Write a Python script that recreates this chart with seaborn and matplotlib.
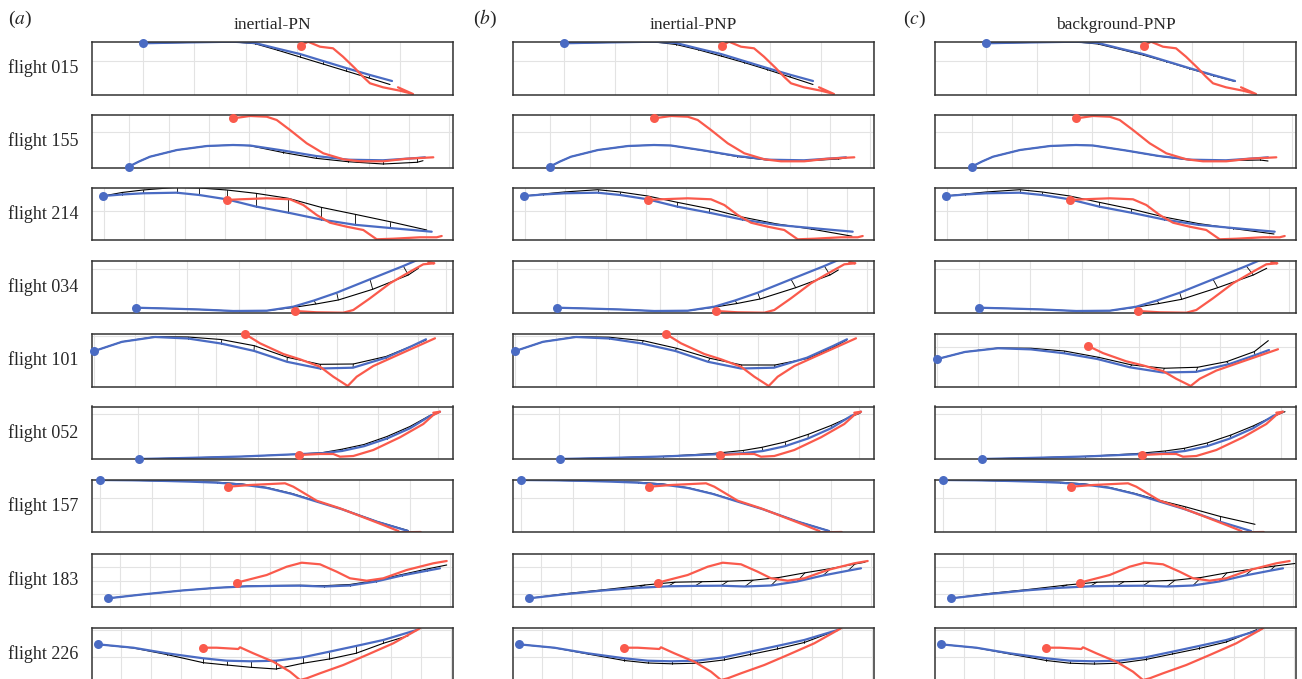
import matplotlib
matplotlib.use("Agg")
import matplotlib.pyplot as plt
import seaborn as sns
import numpy as np

# column titles and flights (rows)
models = ["inertial-PN", "inertial-PNP", "background-PNP"]
panel_tags = ["a", "b", "c"]
flights = ["015", "155", "214", "034", "101", "052", "157", "183", "226"]

# trajectories, (x, y) in panel units; blue = pursuer, red = target,
# black = simulated pursuer for each model (same time samples as blue)
blue_015 = [(50.7, 51.2), (80, 51.8), (110, 52.3), (141, 52.8), (163, 51.5), (185, 46), (208, 40.5), (231, 33.5), (254, 26.5), (278, 19.5), (300, 13.5)]
red_015 = [(209, 48.8), (216, 52.8), (228, 47.8), (241, 46.2), (251, 37.8), (263, 26.2), (271, 17.8), (278, 11.2), (291, 7.2), (308, 3.8), (321, 0.5), (306, 7.2)]
black_pn_015 = [(50.7, 51.2), (80, 51.8), (110, 52.3), (141, 52.6), (163, 50.8), (185, 44.5), (208, 37.5), (231, 30.5), (254, 23.5), (277, 16.5), (298, 10)]
black_pnp_015 = [(50.7, 51.2), (80, 51.8), (110, 52.3), (141, 52.6), (163, 50), (185, 44.8), (208, 38.5), (231, 32), (254, 25), (277, 17.5), (300, 10)]
black_bg_015 = [(50.7, 51.2), (80, 51.8), (110, 52.3), (141, 52.6), (163, 50.5), (185, 45.2), (208, 39.5), (231, 33), (254, 26), (278, 19), (300, 13)]

blue_155 = [(36.7, 0.8), (47, 6), (58, 10.8), (85, 17.5), (115, 21.5), (141, 22.5), (158, 22), (191, 17), (224, 11.5), (256, 7.8), (291, 7.2), (325, 9.5), (333, 10.2)]
red_155 = [(141.3, 49.2), (158, 51.5), (174.7, 50.8), (184.7, 47.5), (198, 37.5), (214.7, 24.2), (231.3, 14.2), (251.3, 8.2), (268, 6.2), (291.3, 6.2), (314.7, 8.8), (341.3, 10.2)]
black_pn_155 = [(36.7, 0.8), (47, 6), (58, 10.8), (85, 17.5), (115, 21.5), (141, 22.5), (158, 21.8), (191, 15), (224, 9.2), (256, 5.8), (291, 3.5), (325, 5.2), (331, 6.8)]
black_pnp_155 = [(36.7, 0.8), (47, 6), (58, 10.8), (85, 17.5), (115, 21.5), (141, 22.5), (158, 22), (191, 16.8), (224, 11), (256, 7.3), (291, 6.5), (325, 8.5), (333, 9.5)]
black_bg_155 = [(36.7, 0.8), (47, 6), (58, 10.8), (85, 17.5), (115, 21.5), (141, 22.5), (158, 22), (191, 17), (224, 11.3), (256, 7.5), (291, 6.8), (325, 7.5), (333, 6.5)]

blue_214 = [(11.3, 44), (30, 45.5), (51, 46.7), (84.7, 47.3), (107.3, 45), (134.7, 40.7), (163.7, 33.5), (196.3, 27.3), (229, 20.5), (263, 15.2), (298, 12), (339.7, 8.3)]
red_214 = [(134.7, 40), (148, 40.7), (174.7, 41.7), (198, 40.7), (211.3, 35), (224.7, 25), (238, 17.3), (254.7, 13.3), (271.3, 10), (284.7, 0.7), (301.3, 1.3), (328, 2.7), (344.7, 2.7), (349.7, 4)]
black_pn_214 = [(11.3, 44), (30, 47.5), (51, 50), (84.7, 52.7), (107.3, 52), (134.7, 50), (163.7, 46.7), (196.3, 41.7), (229, 32.7), (263, 25.7), (298, 18.3), (334.7, 10)]
black_pnp_214 = [(11.3, 44), (30, 46), (51, 48), (84.7, 50.3), (107.3, 48), (134.7, 44), (163.7, 37.8), (196.3, 31.3), (229, 23), (263, 16.2), (298, 11), (339, 3.8)]
black_bg_214 = [(11.3, 44), (30, 46), (51, 48), (84.7, 50.3), (107.3, 48), (134.7, 44), (163.7, 37.8), (196.3, 31), (229, 23), (263, 16.5), (298, 11.5), (339, 6)]

blue_034 = [(43.7, 5.3), (75, 4.5), (108, 3.5), (141.3, 2), (174.7, 2.3), (201.3, 6.3), (222, 12.5), (244.7, 20.3), (278, 33.7), (311.3, 47), (333, 56.3)]
red_034 = [(203, 2), (224.7, 0.7), (251.3, 0.3), (261.3, 3), (278, 14.7), (298, 29.7), (318, 41.3), (331.3, 48.7), (342.3, 49.7), (336.3, 51)]
black_pn_034 = [(43.7, 5.3), (75, 4.5), (108, 3.5), (141.3, 2), (174.7, 2.3), (201, 5.5), (224, 9), (246.3, 13), (280.7, 23.7), (316.3, 38), (326.3, 44.7)]
black_pnp_034 = [(43.7, 5.3), (75, 4.5), (108, 3.5), (141.3, 2), (174.7, 2.3), (201, 5.8), (224, 9.5), (247, 14), (282.7, 25.3), (317, 38), (325.3, 43)]
black_bg_034 = [(43.7, 5.3), (75, 4.5), (108, 3.5), (141.3, 2), (174.7, 2.3), (201, 5.8), (224, 9.5), (246.7, 13.7), (282.7, 25.3), (318.3, 38), (331.7, 44.7)]

blue_101 = [(2.3, 35.5), (30, 44.7), (63, 49.5), (96, 48), (129, 43), (162, 35.6), (195, 24.7), (228, 18), (261, 18.8), (294, 28.8), (320, 40.5), (334, 47.2)]
red_101 = [(153, 52.5), (168, 43.2), (191.3, 32.5), (208, 27.2), (228, 19.8), (241.3, 9.8), (255.7, 0.5), (264.7, 9.8), (281.3, 20.5), (308, 32.5), (343, 48.2)]
black_pn_101 = [(2.3, 35.5), (30, 44.7), (63, 49.8), (96, 49.5), (129, 47), (162.3, 40.8), (195.3, 29.2), (228, 22.2), (261.3, 22.5), (294, 30), (320, 40.5), (334, 46.5)]
black_pnp_101 = [(2.3, 35.5), (30, 44.7), (63, 49.8), (96, 49.3), (130.3, 45.8), (163.7, 38.2), (197, 28.2), (228.7, 21.5), (262, 21.5), (295.3, 28.2), (320, 39), (333.7, 46.5)]
black_bg_101 = [(2.3, 35.5), (30, 44.7), (63, 49.8), (96, 49.5), (129, 46), (163.3, 37.8), (196.7, 27.8), (229.3, 23.5), (262.7, 24.8), (291.7, 32.1), (319.3, 45.1), (333.3, 59.4)]

blue_052 = [(47, 0), (100, 1.2), (150, 2.5), (200, 4.6), (230, 5.8), (250, 8), (272, 12.8), (295, 20.5), (318, 30.7), (338, 43), (348, 47.3)]
red_052 = [(207, 4), (228, 5), (241.3, 5), (248, 2.3), (261.3, 3), (281.3, 9), (308, 21.7), (331.3, 35), (341.3, 44), (348, 47.3), (341.3, 46.3)]
black_pn_052 = [(47, 0), (100, 1.2), (150, 2.5), (200, 4.6), (230, 6.3), (250, 9.8), (272, 14.5), (295, 22.5), (318, 32.5), (338, 43.5), (346.3, 46.3)]
black_pnp_052 = [(47, 0), (100, 1.2), (150, 2.6), (200, 5.5), (230, 8.5), (249, 11.7), (272, 17), (295.3, 24.7), (318, 33.5), (338, 42.5), (347, 45.7)]
black_bg_052 = [(47, 0), (100, 1.2), (150, 2.6), (200, 5.3), (230, 8), (249.3, 10.7), (272, 16), (296, 24), (318, 33), (338, 42.5), (350, 47.3)]

blue_157 = [(8, 52), (40, 51.7), (75, 51), (100, 50.3), (125, 49.3), (150, 47.5), (175, 44), (200, 38), (225, 30.3), (250, 22.7), (285, 10.3), (316, 1)]
red_157 = [(136.3, 45.3), (158, 47), (193, 48.7), (201.3, 45.3), (224.7, 31.3), (248, 23.7), (268, 16), (291.3, 7), (306.3, 1), (307.3, -0.3), (328.7, 0)]
black_pn_157 = [(8, 52), (40, 51.7), (75, 51), (100, 50.5), (125, 49.8), (150, 48), (175, 44.5), (200, 38.5), (225, 30.8), (250, 23), (285, 10.5), (316, 1.5)]
black_pnp_157 = [(8, 52), (40, 51.7), (75, 51), (100, 50.5), (125, 49.8), (150, 48), (175, 44.3), (200, 38.3), (225, 30.5), (250, 22.8), (285, 10.4), (316, 1.2)]
black_bg_157 = [(8, 52), (40, 51.7), (75, 51), (100, 50.5), (125, 49.8), (150, 48), (175, 44.5), (200, 38.5), (225, 31.5), (250, 25.3), (285, 15.6), (320, 7.7)]

blue_183 = [(16.3, 8.2), (50, 12), (90, 16), (125, 18.7), (155, 20.2), (182, 20.6), (208, 20.8), (232, 20), (258, 21), (284, 25), (310, 31), (335, 35.8), (348, 38.2)]
red_183 = [(144.7, 23.8), (174.7, 31.5), (194.7, 39.8), (209.7, 43.8), (228, 42.2), (244.7, 34.8), (258, 28.2), (274.7, 25.8), (291.3, 28.2), (314.7, 36.5), (341.3, 43.2), (354.7, 45.5)]
black_pn_183 = [(16.3, 8.2), (50, 12), (90, 16), (125, 18.7), (155, 20.4), (182, 21), (208, 21.2), (232, 20.8), (258, 22), (284, 26), (310, 32), (335, 37.5), (354.7, 41.5)]
black_pnp_183 = [(16.3, 8.2), (52, 12.8), (95, 17.2), (132, 21.5), (162, 24.3), (189, 24.8), (215, 25.3), (240, 26.3), (266, 29), (292, 33.7), (318, 38), (342, 42.5), (352, 44.3)]
black_bg_183 = [(16.3, 8.2), (52, 12.8), (95, 17.2), (132, 21.5), (162, 24.3), (189, 24.8), (215, 25.3), (240, 26.3), (266, 29), (292, 33.7), (318, 37.5), (340, 40.5), (360, 43)]

blue_226 = [(5.7, 35.7), (41.3, 32.3), (74.7, 26.7), (111.3, 21.7), (134.7, 19.3), (158.7, 18.7), (184, 19.3), (210.7, 22.7), (237.3, 28.3), (264, 34), (291.3, 40), (324.7, 50)]
red_226 = [(110.7, 32.3), (124.7, 32.3), (146.3, 31), (148, 32.7), (161.3, 26.7), (181.3, 18.3), (198, 8.3), (208, 0), (214.7, 1.7), (228, 6.7), (251.3, 15), (274.7, 25), (301.3, 36.7), (328, 51.7)]
black_pn_226 = [(5.7, 35.7), (41.3, 32), (74.7, 25.5), (111.3, 17.3), (134.7, 15), (158.7, 12.7), (184, 11), (210.7, 16.7), (237.3, 21), (264, 26.7), (291.3, 36.7), (316.3, 44.3)]
black_pnp_226 = [(5.7, 35.7), (41.3, 32.2), (74.7, 26), (111.3, 19.5), (134.7, 17), (158.7, 16.2), (184, 16.8), (210.7, 20), (237.3, 25.5), (264, 31), (291.3, 37.5), (322, 49)]
black_bg_226 = [(5.7, 35.7), (41.3, 32.2), (74.7, 26), (111.3, 19.5), (134.7, 16.8), (158.7, 16), (184, 16.8), (210.7, 20.5), (237.3, 26), (264, 31.5), (291.3, 38), (321.7, 50.3)]

g = globals()
blues = {f: g["blue_" + f] for f in flights}
reds = {f: g["red_" + f] for f in flights}
blacks = {
    "inertial-PN": {f: g["black_pn_" + f] for f in flights},
    "inertial-PNP": {f: g["black_pnp_" + f] for f in flights},
    "background-PNP": {f: g["black_bg_" + f] for f in flights},
}

# layout (reference pixels)
W, H = 1302, 679
col_left = [92, 513, 935]
row_top = [42, 115, 187.5, 260.5, 334, 406.5, 479.5, 554, 627.5]
pw, ph = 361, 52.5
tag_x = [8, 473, 903]

# grid per row: first vertical line, spacing, horizontal lines
grid_x0 = [50.7, 36.7, 12, 43.7, 2.3, 46.3, 8, 28, 28.7]
grid_dx = [51.5, 40, 40.3, 51.7, 40.4, 60, 51.7, 30, 30]
grid_y = [[33.8], [35.8], [29.3], [43.7], [51], [44.7], [33.7], [12.5, 26, 39.3], [23.3, 50]]
ylim_default = (0, 52.5)
ylim_override = {("background-PNP", "101"): (-0.2, 68.0)}
gridy_override = {("background-PNP", "101"): [50.8]}

BLUE = "#4a6bc3"
RED = "#fa5a4c"

sns.set_theme(style="whitegrid")
plt.rcParams["font.family"] = ["Liberation Serif", "DejaVu Serif"]
plt.rcParams["mathtext.fontset"] = "stix"

fig = plt.figure(figsize=(W / 100, H / 100), dpi=100)
fig.patch.set_facecolor("white")


def xy(pts):
    return [p[0] for p in pts], [p[1] for p in pts]


for c, model in enumerate(models):
    for r, fl in enumerate(flights):
        ax = fig.add_axes([col_left[c] / W, 1 - (row_top[r] + ph) / H, pw / W, ph / H])
        ax.set_facecolor("white")
        bx, by = xy(blues[fl])
        kx, ky = xy(blacks[model][fl])
        rx, ry = xy(reds[fl])

        sns.lineplot(x=kx, y=ky, sort=False, estimator=None, color="black", lw=0.8, ax=ax)
        for i in range(1, len(bx) - 1):
            ax.plot([bx[i], kx[i]], [by[i], ky[i]], color="black", lw=0.6)
        sns.lineplot(x=bx, y=by, sort=False, estimator=None, color=BLUE, lw=1.6, ax=ax)
        sns.lineplot(x=rx, y=ry, sort=False, estimator=None, color=RED, lw=1.6, ax=ax)
        ax.scatter([rx[0]], [ry[0]], s=42, color=RED, zorder=5, clip_on=False, linewidths=0)
        ax.scatter([bx[0]], [by[0]], s=42, color=BLUE, zorder=5, clip_on=False, linewidths=0)

        ax.set_xlim(0, pw)
        ax.set_ylim(*ylim_override.get((model, fl), ylim_default))
        ax.set_xticks(np.arange(grid_x0[r], pw, grid_dx[r]))
        ax.set_yticks(gridy_override.get((model, fl), grid_y[r]))
        ax.tick_params(length=0, labelbottom=False, labelleft=False)
        ax.grid(True, color="#e3e3e3", lw=0.8)
        ax.set_axisbelow(True)
        ax.set_xlabel("")
        ax.set_ylabel("")
        for s in ax.spines.values():
            s.set_visible(True)
            s.set_color("#333333")
            s.set_linewidth(1.1)

        if c == 0:
            fig.text(8 / W, 1 - (row_top[r] + ph / 2) / H, "flight " + fl,
                     ha="left", va="center", fontsize=13)

    fig.text((col_left[c] + pw / 2) / W, 1 - 25 / H, model, ha="center", va="center", fontsize=12.5)
    fig.text(tag_x[c] / W, 1 - 19 / H, "($\\mathit{" + panel_tags[c] + "}$)",
             ha="left", va="center", fontsize=14)

fig.savefig("out.png", dpi=100, facecolor="white")
